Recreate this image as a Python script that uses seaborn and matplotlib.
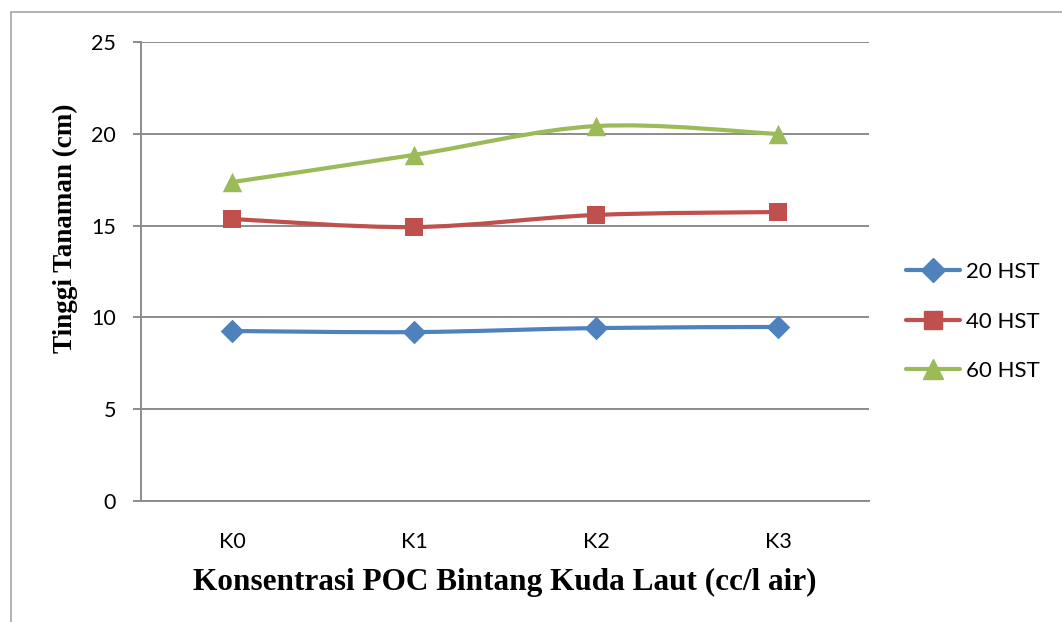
import numpy as np
import pandas as pd
import matplotlib
matplotlib.use("Agg")
import matplotlib.pyplot as plt
import seaborn as sns
from matplotlib.path import Path
from matplotlib.patches import PathPatch, Rectangle
from matplotlib.lines import Line2D

# data
kategori = ["K0", "K1", "K2", "K3"]
hst20 = [9.26, 9.20, 9.42, 9.48]
hst40 = [15.36, 14.92, 15.58, 15.74]
hst60 = [17.37, 18.85, 20.42, 19.99]
seri = ["20 HST", "40 HST", "60 HST"]
warna = ["#4F81BD", "#C0504D", "#9BBB59"]
penanda = ["D", "s", "^"]
ukuran = [12, 12.5, 14]

df = pd.DataFrame({"K": kategori * 3,
                   "HST": np.repeat(seri, 4),
                   "tinggi": hst20 + hst40 + hst60})
df["x"] = df["K"].map({k: i for i, k in enumerate(kategori)})

sns.set_style("white", {"text.color": "black", "axes.labelcolor": "black",
                        "xtick.color": "black", "ytick.color": "black"})
plt.rcParams["font.family"] = ["Lato", "DejaVu Sans"]

fig = plt.figure(figsize=(10.62, 6.22), dpi=100)
ax = fig.add_axes([0.1328, 0.1945, 0.6855, 0.738])

# garis halus (gaya Excel, kurva bezier)
def garis_halus(ax, xs, ys, color):
    p = np.column_stack([xs, ys]).astype(float)
    n = len(p)
    verts = [p[0]]
    codes = [Path.MOVETO]
    for i in range(n - 1):
        p0 = p[i - 1] if i > 0 else p[i]
        p3 = p[i + 2] if i + 2 < n else p[i + 1]
        c1 = p[i] + (p[i + 1] - p0) / 6
        c2 = p[i + 1] - (p3 - p[i]) / 6
        verts += [c1, c2, p[i + 1]]
        codes += [Path.CURVE4] * 3
    ax.add_patch(PathPatch(Path(verts, codes), fill=False, edgecolor=color,
                           lw=3.0, capstyle="round", joinstyle="round", zorder=3))

for s, c, m, ms in zip(seri, warna, penanda, ukuran):
    d = df[df["HST"] == s]
    garis_halus(ax, d["x"].values, d["tinggi"].values, c)
    sns.scatterplot(data=d, x="x", y="tinggi", color=c, marker=m, s=ms ** 2,
                    edgecolor=c, linewidth=0, ax=ax, zorder=4, legend=False)

ax.set_xlim(-0.5, 3.5)
ax.set_ylim(0, 25)
ax.set_yticks([0, 5, 10, 15, 20, 25])
ax.set_xticks(range(4))
ax.set_xticklabels(kategori)
ax.yaxis.grid(True, color="#8c8c8c", lw=1.4)
ax.set_axisbelow(True)
for sp in ["top", "right"]:
    ax.spines[sp].set_visible(False)
for sp in ["left", "bottom"]:
    ax.spines[sp].set_color("#8c8c8c")
    ax.spines[sp].set_linewidth(1.4)
ax.tick_params(axis="y", left=True, length=6, width=1.4, color="#8c8c8c",
               labelcolor="black", labelsize=15.5, pad=12)
ax.tick_params(axis="x", bottom=False, labelcolor="black", labelsize=15.5, pad=19)

ax.set_xlabel("Konsentrasi POC Bintang Kuda Laut (cc/l air)", color="black",
              family="Liberation Serif", weight="bold", fontsize=22.5, labelpad=11)
ax.set_ylabel("Tinggi Tanaman (cm)", family="Liberation Serif", color="black",
              weight="bold", fontsize=19.5)
ax.yaxis.set_label_coords(-0.086, 0.595)

handles = [Line2D([], [], color=c, marker=m, markersize=ms, lw=3.0,
                  solid_capstyle="round")
           for c, m, ms in zip(warna, penanda, ukuran)]
fig.legend(handles, seri, loc="center left", bbox_to_anchor=(0.853, 0.483),
           frameon=False, fontsize=16, handlelength=2.45, handletextpad=0.25,
           labelspacing=1.32, borderpad=0, borderaxespad=0, labelcolor="black")

fig.add_artist(Rectangle((11 / 1062, -0.05), 1.1, 1 - 12 / 622 + 0.05,
                         transform=fig.transFigure, fill=False,
                         edgecolor="#a6a6a6", lw=1.2))

fig.savefig("out.png", dpi=100)
